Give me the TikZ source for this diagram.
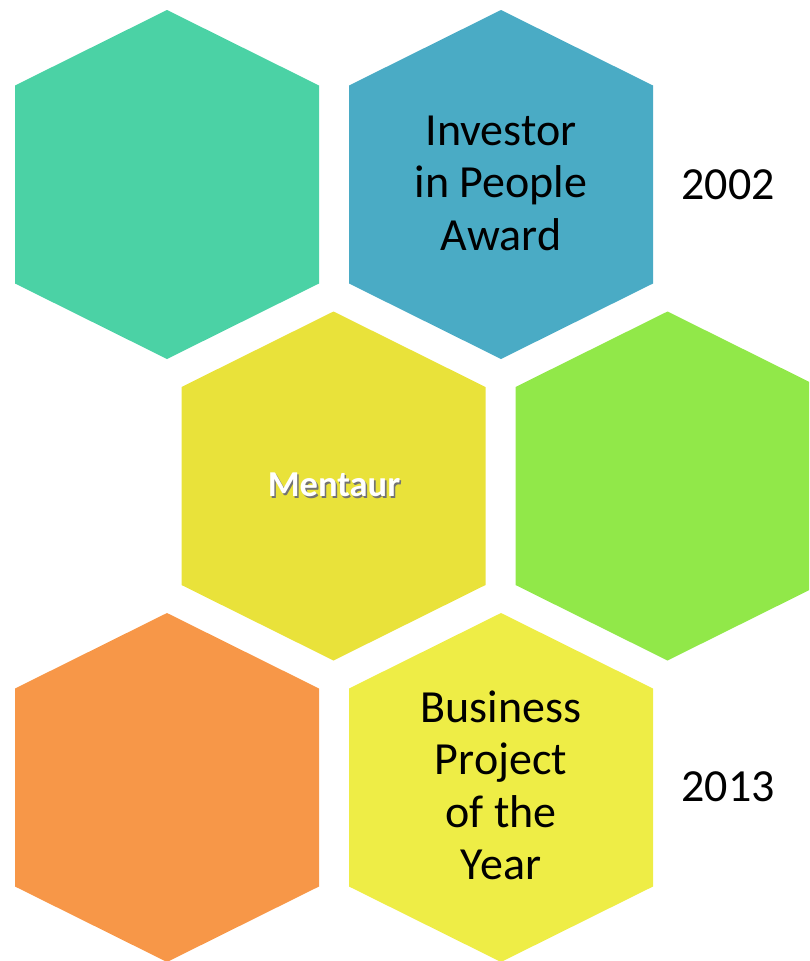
\documentclass[tikz,border=0pt]{standalone}
\usepackage{fontspec}
\setmainfont{Carlito}
\definecolor{hexteal}{HTML}{4BD2A5}
\definecolor{hexblue}{HTML}{4AABC5}
\definecolor{hexyellow}{HTML}{E9E23A}
\definecolor{hexgreen}{HTML}{91E849}
\definecolor{hexorange}{HTML}{F79748}
\definecolor{hexlight}{HTML}{EEED46}
\newcommand{\myhex}[3]{%
  \fill[#3] (#1,#2-174.5) -- (#1+152,#2-99) -- (#1+152,#2+99) -- (#1,#2+174.5)
    -- (#1-152,#2+99) -- (#1-152,#2-99) -- cycle;}
\newcommand{\shadowedtext}[1]{\makebox[0pt][l]{\hspace{1.6pt}\raisebox{-1.6pt}{\textcolor{black!55}{#1}}}\textcolor{white}{#1}}
\tikzset{
  bigtext/.style={font=\fontsize{46}{52.2}\selectfont, text=black, align=center, inner sep=0pt},
  yeartext/.style={font=\fontsize{46}{52}\selectfont, text=black, inner sep=0pt, anchor=base},
  boldlabel/.style={font=\fontsize{36.5}{42}\selectfont\bfseries, inner sep=0pt, anchor=base}
}
\begin{document}
\begin{tikzpicture}[x=1pt,y=-1pt]
\useasboundingbox (0,0) rectangle (809,961);
\clip (0,0) rectangle (809,961);
\myhex{167}{184.5}{hexteal}
\myhex{501}{184.5}{hexblue}
\myhex{333.5}{486}{hexyellow}
\myhex{667.5}{486}{hexgreen}
\myhex{167}{787.5}{hexorange}
\myhex{501}{787.5}{hexlight}
\node[bigtext, anchor=base] (investor) at (501,250) {Investor\\in People\\Award};
\node[yeartext] (y2002) at (728,199) {2002};
\node[boldlabel] (mentaur) at (334,496.7) {\shadowedtext{Mentaur}};
\node[bigtext, anchor=base] (business) at (501,879.3) {Business\\Project\\of the\\Year};
\node[yeartext] (y2013) at (728,801.7) {2013};
\end{tikzpicture}
\end{document}
